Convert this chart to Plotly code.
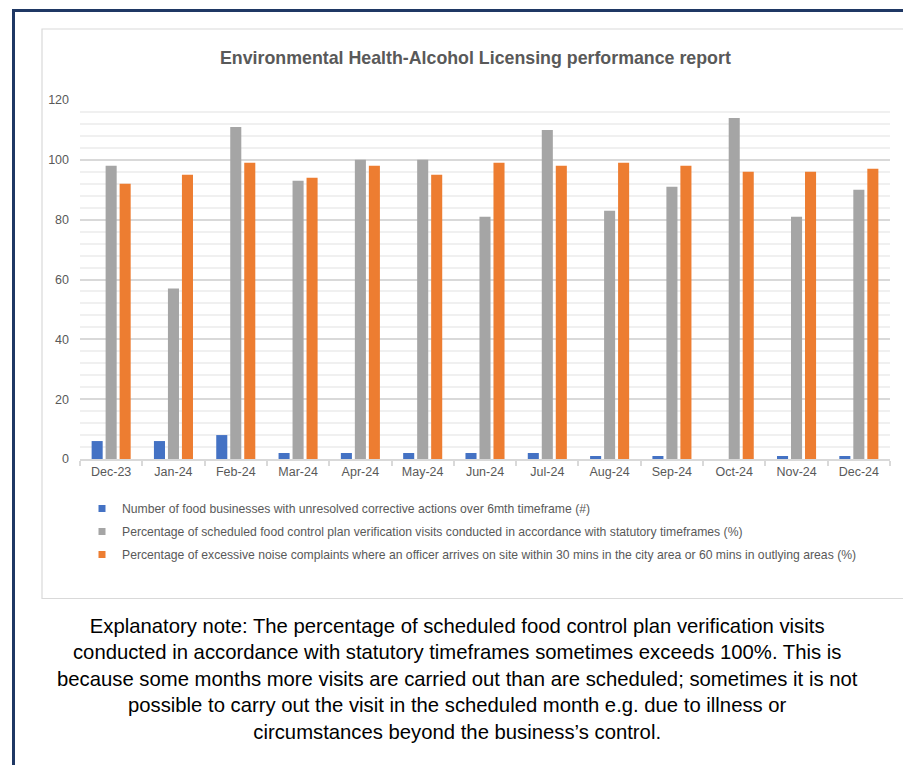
import plotly.graph_objects as go

months = ["Dec-23", "Jan-24", "Feb-24", "Mar-24", "Apr-24", "May-24", "Jun-24",
          "Jul-24", "Aug-24", "Sep-24", "Oct-24", "Nov-24", "Dec-24"]
unresolved = [6, 6, 8, 2, 2, 2, 2, 2, 1, 1, 0, 1, 1]
verification_pct = [98, 57, 111, 93, 100, 100, 81, 110, 83, 91, 114, 81, 90]
noise_pct = [92, 95, 99, 94, 98, 95, 99, 98, 99, 98, 96, 96, 97]

series_names = [
    "Number of food businesses with unresolved corrective actions over 6mth timeframe (#)",
    "Percentage of scheduled food control plan verification visits conducted in accordance with statutory timeframes (%)",
    "Percentage of excessive noise complaints where an officer arrives on site within 30 mins in the city area or 60 mins in outlying areas (%)",
]
colors = ["#4472c4", "#a5a5a5", "#ed7d31"]
y_ticks = [0, 20, 40, 60, 80, 100, 120]

title_text = "Environmental Health-Alcohol Licensing performance report"
note_text = ("Explanatory note: The percentage of scheduled food control plan verification visits<br>"
             "conducted in accordance with statutory timeframes sometimes exceeds 100%. This is<br>"
             "because some months more visits are carried out than are scheduled; sometimes it is not<br>"
             "possible to carry out the visit in the scheduled month e.g. due to illness or<br>"
             "circumstances beyond the business\u2019s control.")

W, H = 903, 765
L, R, T, B = 80, 13, 100, 306
PW = W - L - R
PH = H - T - B


def px_x(px):
    return (px - L) / PW


def px_y(py):
    return (H - B - py) / PH


FONT = "Liberation Sans Narrow, Arial Narrow, Liberation Sans, Arial, sans-serif"
GREY_TXT = "#595959"

fig = go.Figure()
for vals, name, col in zip([unresolved, verification_pct, noise_pct], series_names, colors):
    fig.add_trace(go.Bar(x=months, y=vals, name=name, marker=dict(color=col, line=dict(width=0)),
                         showlegend=False))
for i, (name, col) in enumerate(zip(series_names, colors)):
    fig.add_trace(go.Scatter(x=[None], y=[None], mode="markers", name=name,
                             marker=dict(symbol="square", size=7, color=col),
                             legendgroup=f"g{i}", showlegend=True))

shapes = [
    # inner chart frame
    dict(type="rect", xref="paper", yref="paper", x0=px_x(42), x1=px_x(910),
         y0=px_y(598.5), y1=px_y(29), line=dict(color="#d9d9d9", width=1.2), layer="below"),
    # outer navy border
    dict(type="line", xref="paper", yref="paper", x0=px_x(12), x1=px_x(910),
         y0=px_y(10.5), y1=px_y(10.5), line=dict(color="#1f3864", width=3)),
    dict(type="line", xref="paper", yref="paper", x0=px_x(13.5), x1=px_x(13.5),
         y0=px_y(9), y1=px_y(770), line=dict(color="#1f3864", width=3)),
]

fig.update_layout(
    width=W, height=H,
    margin=dict(l=L, r=R, t=T, b=B),
    paper_bgcolor="white", plot_bgcolor="white",
    barmode="group", bargap=0.326, bargroupgap=0.21,
    font=dict(family=FONT, color=GREY_TXT, size=12),
    shapes=shapes,
    showlegend=True,
    legend=dict(x=px_x(82), xanchor="left", y=px_y(494), yanchor="top",
                font=dict(family=FONT, size=12.2, color=GREY_TXT),
                bgcolor="rgba(0,0,0,0)", tracegroupgap=4, itemclick=False),
    annotations=[
        dict(text=f"<b>{title_text}</b>", x=px_x(475), y=px_y(58), xref="paper", yref="paper",
             xanchor="center", yanchor="middle", showarrow=False,
             font=dict(family=FONT, size=17.8, color=GREY_TXT)),
        dict(text=note_text, x=px_x(457), y=px_y(678.5), xref="paper", yref="paper",
             xanchor="center", yanchor="middle", showarrow=False, align="center",
             font=dict(family=FONT, size=20.3, color="black")),
    ],
)
fig.update_xaxes(
    showline=True, linecolor="#d9d9d9", linewidth=1.5,
    ticks="outside", tickson="boundaries", ticklen=5, tickcolor="#d9d9d9", tickwidth=1.5,
    tickfont=dict(family=FONT, size=12.5, color=GREY_TXT), showgrid=False,
)
fig.update_yaxes(
    range=[0, 120], tickvals=y_ticks, showline=False, zeroline=False,
    showgrid=True, gridcolor="#d9d9d9", gridwidth=1.5,
    minor=dict(dtick=4, tick0=0, showgrid=True, gridcolor="#f0f0f0", gridwidth=1.5),
    tickfont=dict(family=FONT, size=12.5, color=GREY_TXT), ticklabelstandoff=10,
)

fig.write_html("out.html")
